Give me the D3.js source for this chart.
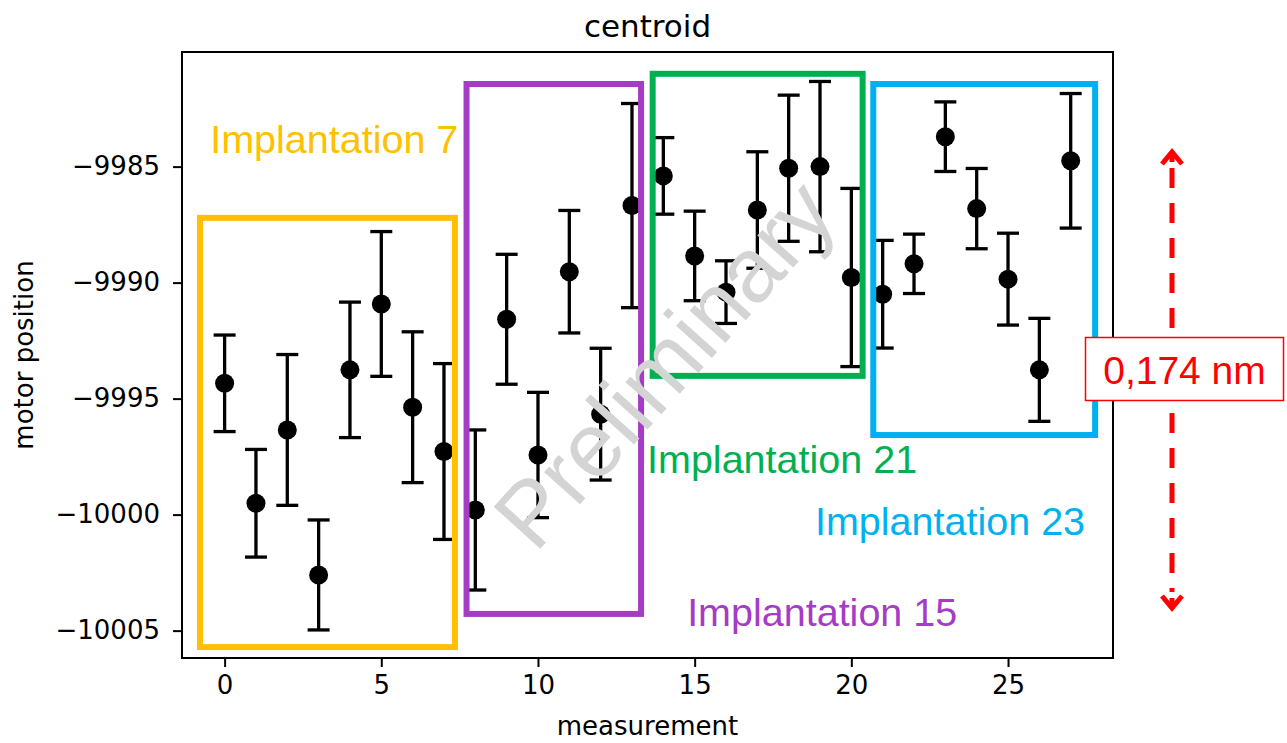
<!DOCTYPE html>
<html>
<head>
<meta charset="utf-8">
<script src="https://cdn.jsdelivr.net/npm/d3@7"></script>
<style>
  body { margin: 0; background: #fff; }
  svg { display: block; }
</style>
</head>
<body>
<svg width="1287" height="743"></svg>
<script>
// data
const measurement = d3.range(28);
const position = [-9994.34, -9999.51, -9996.35, -10002.6, -9993.76, -9990.92, -9995.37, -9997.28,
  -9999.8, -9991.58, -9997.43, -9989.53, -9995.67, -9986.68,
  -9985.4, -9988.85, -9990.41, -9986.87, -9985.07, -9985.0, -9989.78,
  -9990.5, -9989.19, -9983.71, -9986.81, -9989.85, -9993.76, -9984.75];
const error = [2.08, 2.32, 3.25, 2.37, 2.92, 3.12, 3.25, 3.79,
  3.45, 2.8, 2.7, 2.64, 2.84, 4.4,
  1.65, 1.93, 1.35, 2.51, 3.15, 3.67, 3.84,
  2.32, 1.28, 1.5, 1.73, 1.98, 2.22, 2.9];
const xTicks = [0, 5, 10, 15, 20, 25];
const yTicks = [-9985, -9990, -9995, -10000, -10005];

// implantation groups (boxes in data units)
const groups = ["Implantation 7", "Implantation 15", "Implantation 21", "Implantation 23"];
const groupColors = ["#ffc000", "#a43cc6", "#00b050", "#00b0f0"];
const boxX = [[-0.785, 7.35], [7.72, 13.29], [13.66, 20.36], [20.7, 27.78]];
const boxY = [[-9987.21, -10005.71], [-9981.44, -10004.28], [-9981.0, -9994.02], [-9981.44, -9996.57]];
const labelX = [-0.46, 14.76, 13.48, 18.84];
const labelY = [-9984.41, -10004.8, -9998.2, -10000.87];

const svg = d3.select("svg");
const margin = { left: 182, right: 1113, top: 52, bottom: 658 };

const x = d3.scaleLinear().domain([-1.36, 28.35]).range([margin.left, margin.right]);
const y = d3.scaleLinear().domain([-10006.18, -9980.06]).range([margin.bottom, margin.top]);

const tickFont = "'DejaVu Sans', sans-serif";
const boxFont = "'Liberation Sans', Arial, sans-serif";

// axes
const xAxis = svg.append("g")
  .attr("transform", `translate(0,${margin.bottom})`)
  .call(d3.axisBottom(x).tickValues(xTicks).tickSize(9).tickPadding(9).tickSizeOuter(0));
const yAxis = svg.append("g")
  .attr("transform", `translate(${margin.left},0)`)
  .call(d3.axisLeft(y).tickValues(yTicks).tickSize(9).tickPadding(13).tickSizeOuter(0)
    .tickFormat(d => d3.format("d")(d).replace("-", "\u2212")));
[xAxis, yAxis].forEach(a => {
  a.selectAll("text").attr("font-family", tickFont).attr("font-size", 26).attr("fill", "#000");
  a.selectAll("line").attr("stroke", "#000").attr("stroke-width", 2);
  a.select(".domain").remove();
});

svg.append("rect")
  .attr("x", margin.left).attr("y", margin.top)
  .attr("width", margin.right - margin.left).attr("height", margin.bottom - margin.top)
  .attr("fill", "none").attr("stroke", "#000").attr("stroke-width", 2);

// error bars
const bars = svg.append("g").attr("stroke", "#000").attr("stroke-width", 3.3);
measurement.forEach((m, i) => {
  const cx = x(m), top = y(position[i] + error[i]), bot = y(position[i] - error[i]);
  bars.append("line").attr("x1", cx).attr("x2", cx).attr("y1", top).attr("y2", bot);
  bars.append("line").attr("x1", cx - 11).attr("x2", cx + 11).attr("y1", top).attr("y2", top);
  bars.append("line").attr("x1", cx - 11).attr("x2", cx + 11).attr("y1", bot).attr("y2", bot);
});

svg.append("g").selectAll("circle")
  .data(measurement)
  .join("circle")
  .attr("cx", d => x(d))
  .attr("cy", (d, i) => y(position[i]))
  .attr("r", 9.5)
  .attr("fill", "#000");

// boxes and labels
groups.forEach((g, i) => {
  svg.append("rect")
    .attr("x", x(boxX[i][0])).attr("y", y(boxY[i][0]))
    .attr("width", x(boxX[i][1]) - x(boxX[i][0]))
    .attr("height", y(boxY[i][1]) - y(boxY[i][0]))
    .attr("fill", "none").attr("stroke", groupColors[i]).attr("stroke-width", 6);
  svg.append("text")
    .attr("x", x(labelX[i])).attr("y", y(labelY[i]))
    .attr("font-family", boxFont).attr("font-size", 39.5)
    .attr("fill", groupColors[i])
    .text(g);
});

// watermark
svg.append("text")
  .attr("transform", "translate(664,364) rotate(-48)")
  .attr("text-anchor", "middle").attr("dominant-baseline", "central")
  .attr("font-family", boxFont).attr("font-size", 91)
  .attr("fill", "#d4d4d4")
  .text("Preliminary");

// titles
svg.append("text")
  .attr("x", (margin.left + margin.right) / 2).attr("y", 37)
  .attr("text-anchor", "middle")
  .attr("font-family", tickFont).attr("font-size", 31)
  .text("centroid");
svg.append("text")
  .attr("x", (margin.left + margin.right) / 2).attr("y", 735)
  .attr("text-anchor", "middle")
  .attr("font-family", tickFont).attr("font-size", 26)
  .text("measurement");
svg.append("text")
  .attr("transform", `translate(33,${(margin.top + margin.bottom) / 2}) rotate(-90)`)
  .attr("text-anchor", "middle")
  .attr("font-family", tickFont).attr("font-size", 26)
  .text("motor position");

// red span annotation
const spanX = 1172, spanTop = 150, spanBot = 610;
const red = svg.append("g").attr("stroke", "#ff0000").attr("fill", "none").attr("stroke-width", 5);
red.append("line")
  .attr("x1", spanX).attr("x2", spanX).attr("y1", spanTop + 18).attr("y2", spanBot - 18)
  .attr("stroke-dasharray", "20,15");
red.append("path")
  .attr("d", `M${spanX - 10},${spanTop + 14}L${spanX},${spanTop + 2}L${spanX + 10},${spanTop + 14}`);
red.append("path")
  .attr("d", `M${spanX - 10},${spanBot - 14}L${spanX},${spanBot - 2}L${spanX + 10},${spanBot - 14}`);
red.append("line")
  .attr("x1", spanX).attr("x2", spanX).attr("y1", spanTop + 2).attr("y2", spanTop + 12);
red.append("line")
  .attr("x1", spanX).attr("x2", spanX).attr("y1", spanBot - 12).attr("y2", spanBot - 2);

svg.append("rect")
  .attr("x", 1085.5).attr("y", 337.5).attr("width", 198).attr("height", 63)
  .attr("fill", "#fff").attr("stroke", "#ff0000").attr("stroke-width", 1.5);
svg.append("text")
  .attr("x", 1184.5).attr("y", 384)
  .attr("text-anchor", "middle")
  .attr("font-family", boxFont).attr("font-size", 39)
  .attr("fill", "#ff0000")
  .text("0,174 nm");
</script>
</body>
</html>
